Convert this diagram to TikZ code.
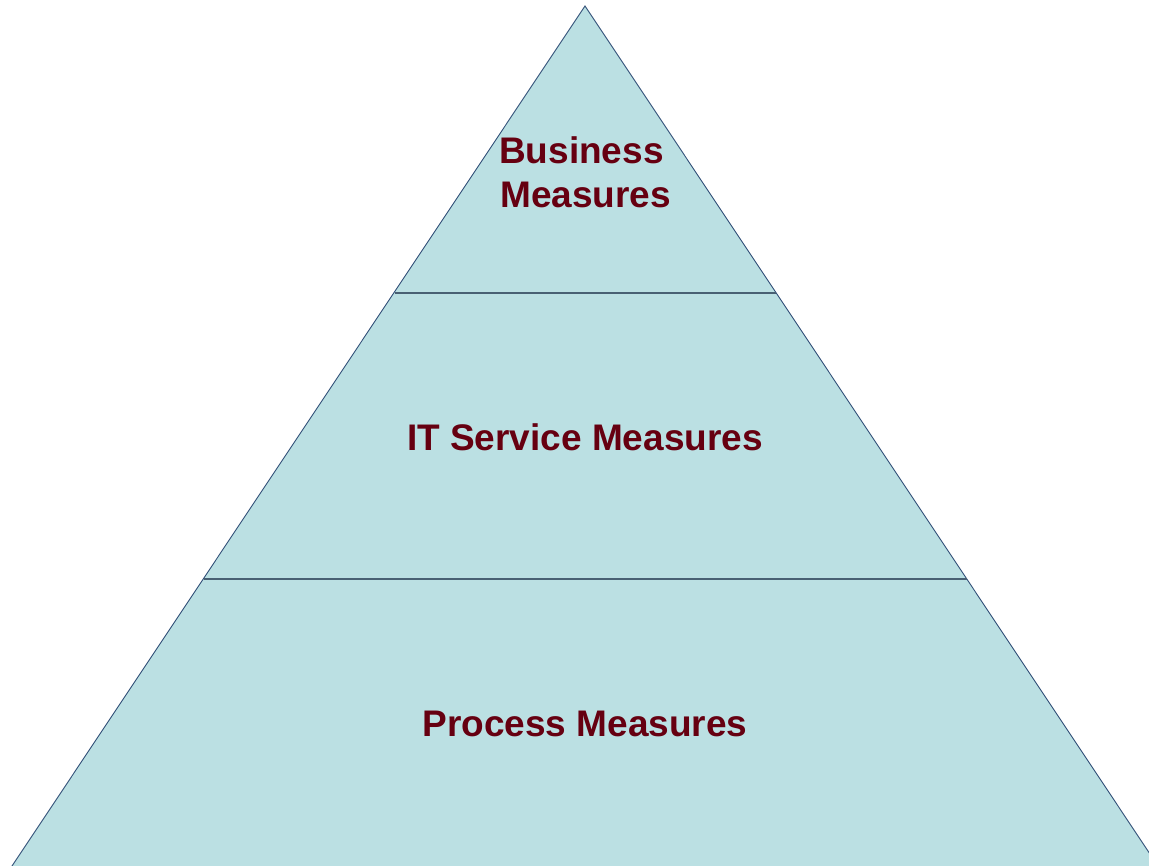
\documentclass[tikz,border=0pt]{standalone}
\usepackage{fontspec}
\setmainfont{Liberation Sans}
\definecolor{pyrfill}{RGB}{187,224,227}
\definecolor{pyredge}{RGB}{50,80,120}
\definecolor{divline}{RGB}{72,96,115}
\definecolor{labelred}{RGB}{102,0,17}
\begin{document}
\begin{tikzpicture}[x=1pt,y=1pt,
  lbl/.style={font=\fontsize{37}{44}\selectfont\bfseries, text=labelred, inner sep=0pt},
  divider/.style={draw=divline, line width=1.8pt}]
\useasboundingbox (0,0) rectangle (1149,866);
\clip (0,0) rectangle (1149,866);
\coordinate (apex) at (585,860);
\coordinate (bl) at (8,-6);
\coordinate (br) at (1162,-6);
\filldraw[fill=pyrfill, draw=pyredge, line width=0.9pt] (apex) -- (br) -- (bl) -- cycle;
\coordinate (d1l) at (395,573);
\coordinate (d1r) at (776,573);
\coordinate (d2l) at (204,287);
\coordinate (d2r) at (967,287);
\draw[divider] (d1l) -- (d1r);
\draw[divider] (d2l) -- (d2r);
\node[lbl, anchor=base west] (b1) at (499,702) {Business};
\node[lbl, anchor=base west] (b2) at (500,658) {Measures};
\node[lbl, anchor=base] (it) at (585,415) {IT Service Measures};
\node[lbl, anchor=base] (pm) at (585,129) {Process Measures};
\end{tikzpicture}
\end{document}
